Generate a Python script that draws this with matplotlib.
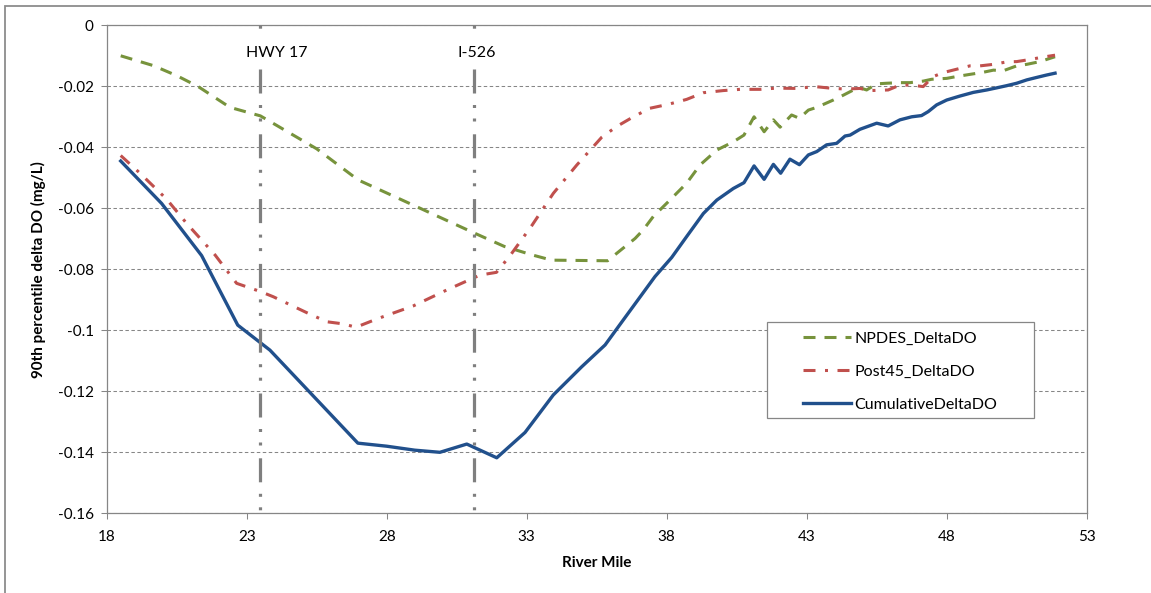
import matplotlib
matplotlib.use("Agg")
import matplotlib.pyplot as plt
from matplotlib.patches import Rectangle

plt.rcParams['font.family'] = ['Lato', 'DejaVu Sans']
plt.rcParams['lines.scale_dashes'] = False

# --- data ---
npdes_mile = [18.5, 19.66, 20.5, 21.27, 22.4, 23.49, 25.5, 26.98, 31.15, 32.2, 33.2,
              33.89, 35.89, 36.21, 36.87, 37.16, 37.52, 38.06, 38.71, 39.19, 39.79,
              40.38, 40.76, 41.12, 41.48, 41.81, 42.05, 42.46, 42.74, 43.06, 43.36,
              43.95, 44.31, 44.67, 44.9, 45.14, 45.5, 45.85, 46.33, 46.69, 47.16,
              47.46, 48.0, 48.35, 48.89, 49.25, 49.67, 50.02, 50.5, 50.86, 51.33, 51.87]
npdes_do = [-0.010, -0.0132, -0.0165, -0.0201, -0.0269, -0.0297, -0.0405, -0.0507,
            -0.0682, -0.0725, -0.0753, -0.0770, -0.0772, -0.0748, -0.0699, -0.0671,
            -0.0627, -0.0578, -0.0518, -0.0458, -0.0409, -0.0382, -0.0360, -0.0300,
            -0.0349, -0.0310, -0.0334, -0.0294, -0.0305, -0.0278, -0.0269, -0.0245,
            -0.0229, -0.0212, -0.0205, -0.0212, -0.0192, -0.0190, -0.0188, -0.0188,
            -0.0183, -0.0177, -0.0174, -0.0168, -0.0160, -0.0155, -0.0147, -0.0149,
            -0.0133, -0.0128, -0.0119, -0.0103]

post45_mile = [18.5, 19.19, 20.14, 20.86, 21.87, 22.64, 23.49, 23.95, 25.14, 25.86,
               26.45, 26.9, 27.7, 28.95, 30.14, 31.33, 31.92, 32.4, 33.18, 33.95,
               34.79, 35.68, 36.21, 36.81, 37.4, 38.06, 38.71, 39.31, 40.02, 40.62,
               41.33, 41.92, 42.64, 43.3, 43.95, 44.43, 44.9, 45.26, 45.91, 46.33,
               46.75, 47.16, 47.52, 47.88, 48.83, 49.19, 49.67, 50.14, 50.5, 50.98,
               51.39, 51.87]
post45_do = [-0.0427, -0.0485, -0.057, -0.065, -0.0753, -0.0846, -0.0873, -0.089,
             -0.0942, -0.0972, -0.0979, -0.0990, -0.0961, -0.092, -0.0868, -0.0819,
             -0.081, -0.0756, -0.0657, -0.0551, -0.0458, -0.0367, -0.0332, -0.030,
             -0.0272, -0.0259, -0.0243, -0.0221, -0.0214, -0.021, -0.021, -0.0206,
             -0.0207, -0.0201, -0.0207, -0.0209, -0.0207, -0.0214, -0.0212, -0.0196,
             -0.0196, -0.0201, -0.0168, -0.0155, -0.0133, -0.0133, -0.0128, -0.012,
             -0.0119, -0.0112, -0.0105, -0.0098]

cumul_mile = [18.5, 19.96, 21.39, 22.68, 23.83, 26.97, 28.0, 29.0, 29.9, 30.86, 31.93,
              32.94, 33.95, 34.96, 35.8, 36.45, 37.58, 38.18, 38.71, 39.31, 39.79,
              40.38, 40.76, 41.12, 41.48, 41.81, 42.07, 42.4, 42.74, 43.06, 43.36,
              43.71, 44.07, 44.37, 44.55, 44.9, 45.5, 45.91, 46.33, 46.75, 47.1,
              47.34, 47.64, 48.0, 48.47, 48.95, 49.43, 49.79, 50.14, 50.5, 50.86,
              51.21, 51.57, 51.87]
cumul_do = [-0.0445, -0.0584, -0.0755, -0.0983, -0.1065, -0.137, -0.138, -0.1393,
            -0.140, -0.1373, -0.1418, -0.1335, -0.1212, -0.112, -0.1048, -0.0966,
            -0.0824, -0.0761, -0.0693, -0.0617, -0.0573, -0.0535, -0.0516, -0.0461,
            -0.0505, -0.0456, -0.0485, -0.0439, -0.0457, -0.0425, -0.0414, -0.0392,
            -0.0387, -0.0363, -0.036, -0.0341, -0.0321, -0.033, -0.031, -0.030,
            -0.0296, -0.0283, -0.0261, -0.0245, -0.0232, -0.022, -0.0212, -0.0205,
            -0.0198, -0.019, -0.0179, -0.0171, -0.0163, -0.0157]

bridge_names = ["HWY 17", "I-526"]
bridge_mile = [23.49, 31.1]
bridge_label_x = [24.07, 31.21]

xticks = [18, 23, 28, 33, 38, 43, 48, 53]
yticks = [0, -0.02, -0.04, -0.06, -0.08, -0.1, -0.12, -0.14, -0.16]
ytick_labels = ["0", "-0.02", "-0.04", "-0.06", "-0.08", "-0.1", "-0.12", "-0.14", "-0.16"]

W, H = 1151, 593
px = 0.72  # points per pixel at dpi 100

fig = plt.figure(figsize=(W / 100, H / 100), dpi=100)
fig.patch.set_facecolor('white')
# chart-area border (runs off the right and bottom edge)
fig.patches.append(Rectangle((4.6 / W, -0.1), 1.2, 1.1 - 5.7 / H, transform=fig.transFigure,
                             fill=False, edgecolor='#8c8c8c', lw=1.3))

ax = fig.add_axes([106.7 / W, (H - 513.3) / H, 980 / W, 488 / H])
grey = '#868686'

ax.plot(npdes_mile, npdes_do, color='#77933C', lw=2.2,
        linestyle=(0, (12 * px, 9 * px)), label='NPDES_DeltaDO', zorder=2)
ax.plot(post45_mile, post45_do, color='#C0504D', lw=2.2,
        linestyle=(0, (12 * px, 9.5 * px, 3 * px, 9.5 * px)), label='Post45_DeltaDO', zorder=2)
ax.plot(cumul_mile, cumul_do, color='#21508C', lw=2.4, label='CumulativeDeltaDO', zorder=2)

# long dash - dot - dot bridge markers
vpat = (20.8 * px, (24 * px, 11.5 * px, 3 * px, 10.5 * px, 3 * px, 12.8 * px))
for name, m, lx in zip(bridge_names, bridge_mile, bridge_label_x):
    ax.plot([m, m], [0, -0.16], color='#7f7f7f', lw=2.3, linestyle=vpat, zorder=3)
    ax.text(lx, -0.0092, name, ha='center', va='center', fontsize=11.5, zorder=4,
            bbox=dict(facecolor='white', edgecolor='none', pad=5))

ax.set_xlim(18, 53)
ax.set_ylim(-0.16, 0)
ax.set_xticks(xticks)
ax.set_xticklabels([str(t) for t in xticks])
ax.set_yticks(yticks)
ax.set_yticklabels(ytick_labels)
ax.tick_params(direction='out', length=4.3, width=0.75, color=grey, labelsize=11,
               labelcolor='black')
ax.tick_params(axis='x', pad=8)
ax.tick_params(axis='y', pad=5)
ax.yaxis.grid(True, color=grey, lw=0.75, linestyle=(0, (2.5, 1.8)))
ax.set_axisbelow(True)
for s in ax.spines.values():
    s.set_color(grey)
    s.set_linewidth(0.9)

ax.set_xlabel('River Mile', fontsize=11, fontweight='bold', va='center')
ax.xaxis.set_label_coords(0.5, -0.1025)
ax.set_ylabel('90th percentile delta DO (mg/L)', fontsize=11, fontweight='bold', va='center')
ax.yaxis.set_label_coords(-0.0701, 0.5)

# legend box drawn separately so the entries can sit inset like the original
ax.add_patch(Rectangle((766.5 / W, (H - 418.3) / H), 267 / W, 96.6 / H,
                       transform=fig.transFigure, facecolor='white', edgecolor=grey,
                       lw=0.9, zorder=5, clip_on=False))
leg = ax.legend(loc='upper left', borderaxespad=0, borderpad=0,
                bbox_to_anchor=(803 / W, (H - 331.5) / H), bbox_transform=fig.transFigure,
                fontsize=11.5, handlelength=3.0, handletextpad=0.22, labelspacing=1.18,
                frameon=False)
leg.set_zorder(6)

fig.savefig('out.png', dpi=100)
